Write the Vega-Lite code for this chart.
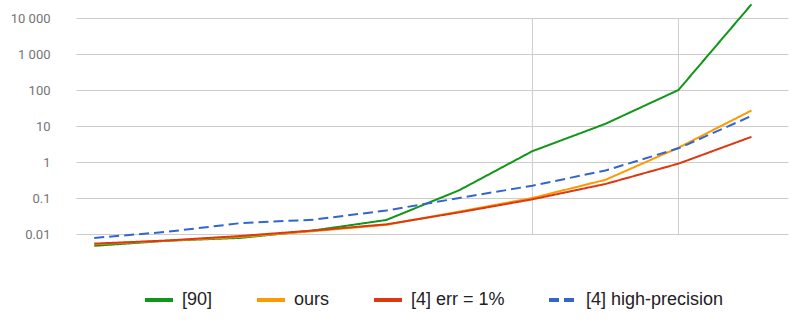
{
  "$schema": "https://vega.github.io/schema/vega-lite/v6.json",
  "width": 712,
  "height": 252,
  "autosize": {"type": "none"},
  "padding": {"left": 76, "top": 0, "right": 17, "bottom": 75},
  "background": "white",
  "config": {"view": {"stroke": null}},
  "datasets": {
    "series": [
      {"x": 10, "s": "[90]", "v": 0.0047},
      {"x": 9, "s": "[90]", "v": 0.0065},
      {"x": 8, "s": "[90]", "v": 0.0078},
      {"x": 7, "s": "[90]", "v": 0.0125},
      {"x": 6, "s": "[90]", "v": 0.0245},
      {"x": 5, "s": "[90]", "v": 0.165},
      {"x": 4, "s": "[90]", "v": 2.0},
      {"x": 3, "s": "[90]", "v": 11.5},
      {"x": 2, "s": "[90]", "v": 100},
      {"x": 1, "s": "[90]", "v": 24000},
      {"x": 10, "s": "ours", "v": 0.0052},
      {"x": 9, "s": "ours", "v": 0.0065},
      {"x": 8, "s": "ours", "v": 0.0083},
      {"x": 7, "s": "ours", "v": 0.012},
      {"x": 6, "s": "ours", "v": 0.018},
      {"x": 5, "s": "ours", "v": 0.042},
      {"x": 4, "s": "ours", "v": 0.1},
      {"x": 3, "s": "ours", "v": 0.32},
      {"x": 2, "s": "ours", "v": 2.5},
      {"x": 1, "s": "ours", "v": 27},
      {"x": 10, "s": "[4] err = 1%", "v": 0.0054},
      {"x": 9, "s": "[4] err = 1%", "v": 0.0066},
      {"x": 8, "s": "[4] err = 1%", "v": 0.0088},
      {"x": 7, "s": "[4] err = 1%", "v": 0.0125},
      {"x": 6, "s": "[4] err = 1%", "v": 0.0185},
      {"x": 5, "s": "[4] err = 1%", "v": 0.04},
      {"x": 4, "s": "[4] err = 1%", "v": 0.092},
      {"x": 3, "s": "[4] err = 1%", "v": 0.245},
      {"x": 2, "s": "[4] err = 1%", "v": 0.9},
      {"x": 1, "s": "[4] err = 1%", "v": 5.0},
      {"x": 10, "s": "[4] high-precision", "v": 0.0078},
      {"x": 9, "s": "[4] high-precision", "v": 0.0115},
      {"x": 8, "s": "[4] high-precision", "v": 0.02},
      {"x": 7, "s": "[4] high-precision", "v": 0.025},
      {"x": 6, "s": "[4] high-precision", "v": 0.045},
      {"x": 5, "s": "[4] high-precision", "v": 0.1},
      {"x": 4, "s": "[4] high-precision", "v": 0.22},
      {"x": 3, "s": "[4] high-precision", "v": 0.58},
      {"x": 2, "s": "[4] high-precision", "v": 2.4},
      {"x": 1, "s": "[4] high-precision", "v": 19}
    ],
    "vlines": [{"x": 4}, {"x": 2}]
  },
  "layer": [
    {
      "data": {"name": "vlines"},
      "mark": {"type": "rule", "color": "#cccccc", "strokeWidth": 1},
      "encoding": {
        "x": {"field": "x", "type": "quantitative", "scale": {"domain": [10.25, 0.5], "nice": false, "zero": false}, "axis": null},
        "y": {"datum": 0.01, "type": "quantitative", "scale": {"type": "log", "domain": [0.0031623, 31623], "nice": false}},
        "y2": {"datum": 10000}
      }
    },
    {
      "data": {"name": "series"},
      "mark": {"type": "line", "strokeWidth": 2},
      "encoding": {
        "x": {
          "field": "x", "type": "quantitative",
          "scale": {"domain": [10.25, 0.5], "nice": false, "zero": false},
          "axis": {
            "title": null, "values": [10, 9, 8, 7, 6, 5, 4, 3, 2, 1], "format": "d",
            "grid": false, "domain": false, "ticks": false,
            "labelFont": "Roboto", "labelFontSize": 13, "labelColor": "#757575", "labelPadding": 3
          }
        },
        "y": {
          "field": "v", "type": "quantitative",
          "scale": {"type": "log", "domain": [0.0031623, 31623], "nice": false},
          "axis": {
            "title": null, "values": [0.01, 0.1, 1, 10, 100, 1000, 10000],
            "labelExpr": "datum.value >= 1000 ? replace(format(datum.value, ','), ',', ' ') : toString(datum.value)",
            "grid": true, "gridColor": "#cccccc", "gridWidth": 1,
            "domain": false, "ticks": false,
            "labelFont": "Roboto", "labelFontSize": 13, "labelColor": "#757575", "labelPadding": 26
          }
        },
        "color": {
          "field": "s", "type": "nominal",
          "scale": {"domain": ["[90]", "ours", "[4] err = 1%", "[4] high-precision"], "range": ["#109618", "#ff9900", "#dc3912", "#3366cc"]},
          "legend": {
            "title": null, "orient": "none", "legendX": 67, "legendY": 284, "direction": "horizontal",
            "columnPadding": 36, "labelFontSize": 18, "labelFont": "Liberation Sans", "labelColor": "#222222",
            "symbolType": "stroke", "symbolSize": 784, "symbolStrokeWidth": 4, "labelOffset": 7
          }
        },
        "strokeDash": {
          "field": "s", "type": "nominal",
          "scale": {"domain": ["[90]", "ours", "[4] err = 1%", "[4] high-precision"], "range": [[1, 0], [1, 0], [1, 0], [10, 5]]},
          "legend": {
            "title": null, "orient": "none", "legendX": 67, "legendY": 284, "direction": "horizontal",
            "columnPadding": 36, "labelFontSize": 18, "labelFont": "Liberation Sans", "labelColor": "#222222",
            "symbolType": "stroke", "symbolSize": 784, "symbolStrokeWidth": 4, "labelOffset": 7
          }
        }
      }
    }
  ]
}
